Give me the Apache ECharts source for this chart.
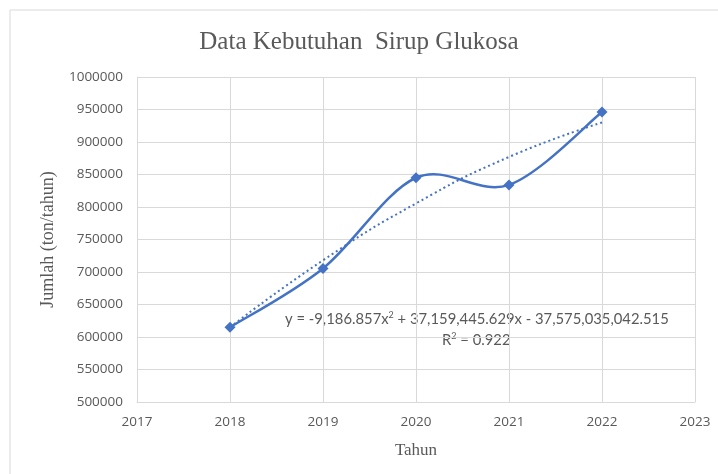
<!DOCTYPE html>
<html>
<head>
<meta charset="utf-8">
<script src="https://cdn.jsdelivr.net/npm/echarts@6/dist/echarts.min.js"></script>
<style>
  html, body { margin: 0; padding: 0; background: #fff; }
  #chart { width: 718px; height: 474px; }
</style>
</head>
<body>
<div id="chart"></div>
<script>
// data kebutuhan sirup glukosa
var years = [2018, 2019, 2020, 2021, 2022];
var jumlah = [615000, 705500, 845000, 834000, 946000];
// poly trendline (order 2)
var trend = [615000, 718000, 805500, 877000, 930000];

var chart = echarts.init(document.getElementById('chart'));

// excel-like smoothed line: catmull-rom -> bezier, through the axis coords
function renderSmooth(params, api) {
    var pts = years.map(function (y, i) { return api.coord([y, jumlah[i]]); });
    var n = pts.length;
    var children = [];
    for (var i = 0; i < n - 1; i++) {
        var p0 = pts[Math.max(i - 1, 0)];
        var p1 = pts[i];
        var p2 = pts[i + 1];
        var p3 = pts[Math.min(i + 2, n - 1)];
        children.push({
            type: 'bezierCurve',
            shape: {
                x1: p1[0], y1: p1[1],
                cpx1: p1[0] + (p2[0] - p0[0]) / 6, cpy1: p1[1] + (p2[1] - p0[1]) / 6,
                cpx2: p2[0] - (p3[0] - p1[0]) / 6, cpy2: p2[1] - (p3[1] - p1[1]) / 6,
                x2: p2[0], y2: p2[1]
            },
            style: { stroke: '#4472C4', lineWidth: 2.5, fill: null }
        });
    }
    return { type: 'group', children: children };
}

var axisText = { color: '#595959', fontSize: 13.5, fontFamily: 'Open Sans' };
var eqRich = {
    n: { fontSize: 14.8, fontFamily: 'Lato', fill: '#595959' },
    s: { fontSize: 9, fontFamily: 'Lato', fill: '#595959', verticalAlign: 'top', padding: [0, 0, 8, 0] }
};

option = {
    animation: false,
    backgroundColor: '#fff',
    title: {
        text: 'Data Kebutuhan  Sirup Glukosa',
        left: 'center',
        top: 25,
        textStyle: {
            fontFamily: 'Liberation Serif',
            fontSize: 25,
            fontWeight: 'normal',
            color: '#595959'
        }
    },
    grid: {
        left: 137,
        right: 23,
        top: 77,
        bottom: 72
    },
    xAxis: {
        type: 'value',
        min: 2017,
        max: 2023,
        interval: 1,
        name: 'Tahun',
        nameLocation: 'middle',
        nameGap: 40,
        nameTextStyle: {
            fontFamily: 'Liberation Serif',
            fontSize: 17,
            color: '#595959'
        },
        axisLine: { show: true, lineStyle: { color: '#d9d9d9' } },
        axisTick: { show: false },
        axisLabel: Object.assign({ margin: 13, formatter: function (v) { return String(v); } }, axisText),
        splitLine: { show: true, lineStyle: { color: '#d9d9d9' } }
    },
    yAxis: {
        type: 'value',
        min: 500000,
        max: 1000000,
        interval: 50000,
        name: 'Jumlah (ton/tahun)',
        nameLocation: 'middle',
        nameGap: 80,
        nameTextStyle: {
            fontFamily: 'Liberation Serif',
            fontSize: 18,
            color: '#595959'
        },
        axisLine: { show: true, lineStyle: { color: '#d9d9d9' } },
        axisTick: { show: false },
        axisLabel: Object.assign({ margin: 14, formatter: function (v) { return String(v); } }, axisText),
        splitLine: { show: true, lineStyle: { color: '#d9d9d9' } }
    },
    series: [
        {
            name: 'Trendline',
            type: 'line',
            smooth: true,
            data: years.map(function (y, i) { return [y, trend[i]]; }),
            symbol: 'none',
            lineStyle: { color: '#4472C4', width: 2, type: [2, 3] },
            z: 2
        },
        {
            name: 'Jumlah line',
            type: 'custom',
            data: [[years[0], jumlah[0]]],
            renderItem: renderSmooth,
            z: 3
        },
        {
            name: 'Jumlah',
            type: 'scatter',
            data: years.map(function (y, i) { return [y, jumlah[i]]; }),
            symbol: 'diamond',
            symbolSize: 11,
            itemStyle: { color: '#4472C4', opacity: 1 },
            z: 4
        }
    ],
    graphic: [
        {
            type: 'rect',
            shape: { x: 10, y: 10, width: 720, height: 480 },
            style: { fill: 'none', stroke: '#d9d9d9', lineWidth: 1 },
            silent: true
        },
        {
            type: 'text',
            left: 285,
            top: 311,
            style: {
                text: '{n|y = -9,186.857x}{s|2}{n| + 37,159,445.629x - 37,575,035,042.515}',
                rich: eqRich
            }
        },
        {
            type: 'text',
            left: 442,
            top: 332,
            style: {
                text: '{n|R}{s|2}{n| = 0.922}',
                rich: eqRich
            }
        }
    ]
};

chart.setOption(option);
</script>
</body>
</html>
